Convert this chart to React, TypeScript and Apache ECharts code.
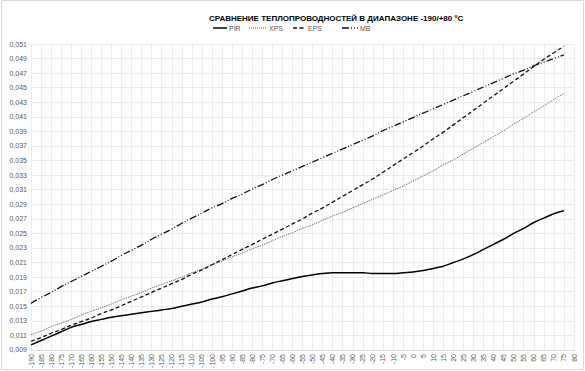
import React, { useEffect, useRef } from "react";
import * as echarts from "echarts";

const categories = [
  "-190","-185","-180","-175","-170","-165","-160","-155","-150","-145",
  "-140","-135","-130","-125","-120","-115","-110","-105","-100","-95",
  "-90","-85","-80","-75","-70","-65","-60","-55","-50","-45",
  "-40","-35","-30","-25","-20","-15","-10","-5","0","5",
  "10","15","20","25","30","35","40","45","50","55",
  "60","65","70","75","80",
];

const pir = [
  0.0097,0.0103,0.0109,0.0115,0.0121,0.0125,0.0129,0.0132,0.0135,0.0137,
  0.0139,0.0141,0.0143,0.0145,0.0147,0.0150,0.0153,0.0156,0.0160,0.0163,
  0.0167,0.0171,0.0175,0.0178,0.0182,0.0185,0.0188,0.0191,0.0193,0.0195,
  0.0196,0.0196,0.0196,0.0196,0.0195,0.0195,0.0195,0.0196,0.0197,0.0199,
  0.0202,0.0205,0.0210,0.0215,0.0221,0.0228,0.0235,0.0242,0.0250,0.0257,
  0.0265,0.0271,0.0277,0.0281,
];

const xps = [
  0.0111,0.0116,0.0122,0.0127,0.0132,0.0138,0.0143,0.0148,0.0153,0.0159,
  0.0164,0.0169,0.0175,0.0180,0.0185,0.0190,0.0196,0.0201,0.0207,0.0212,
  0.0218,0.0223,0.0229,0.0234,0.0240,0.0246,0.0251,0.0257,0.0262,0.0268,
  0.0274,0.0279,0.0285,0.0291,0.0297,0.0303,0.0309,0.0315,0.0322,0.0329,
  0.0336,0.0344,0.0351,0.0359,0.0367,0.0375,0.0383,0.0391,0.0400,0.0408,
  0.0417,0.0425,0.0434,0.0442,
];

const eps = [
  0.0102,0.0107,0.0113,0.0118,0.0124,0.0129,0.0134,0.0140,0.0145,0.0151,
  0.0157,0.0163,0.0169,0.0175,0.0181,0.0187,0.0194,0.0200,0.0207,0.0214,
  0.0221,0.0228,0.0235,0.0242,0.0249,0.0256,0.0263,0.0270,0.0278,0.0285,
  0.0293,0.0301,0.0309,0.0317,0.0325,0.0334,0.0343,0.0352,0.0361,0.0370,
  0.0380,0.0389,0.0399,0.0409,0.0419,0.0429,0.0439,0.0449,0.0459,0.0469,
  0.0479,0.0489,0.0498,0.0507,
];

const mb = [
  0.0154,0.0162,0.0169,0.0177,0.0184,0.0191,0.0198,0.0205,0.0212,0.0220,
  0.0227,0.0234,0.0242,0.0249,0.0256,0.0264,0.0271,0.0278,0.0285,0.0291,
  0.0298,0.0304,0.0311,0.0317,0.0324,0.0330,0.0336,0.0342,0.0348,0.0354,
  0.0360,0.0366,0.0372,0.0378,0.0384,0.0391,0.0397,0.0403,0.0409,0.0415,
  0.0421,0.0427,0.0433,0.0439,0.0445,0.0451,0.0457,0.0463,0.0469,0.0474,
  0.0480,0.0485,0.0490,0.0495,
];

const yTicks = [
  0.009,0.011,0.013,0.015,0.017,0.019,0.021,0.023,0.025,0.027,0.029,
  0.031,0.033,0.035,0.037,0.039,0.041,0.043,0.045,0.047,0.049,0.051,
];

const seriesNames = ["PIR", "XPS", "EPS", "MB"];

const FONT = "Liberation Sans, Arial, sans-serif";

const styles: Record<string, { color: string; width: number; dash: number[] | "solid" }> = {
  PIR: { color: "#000000", width: 1.5, dash: "solid" },
  XPS: { color: "#555555", width: 1, dash: [1, 1] },
  EPS: { color: "#111111", width: 1.3, dash: [4, 2.5] },
  MB: { color: "#111111", width: 1.3, dash: [7, 2, 1, 2, 1, 2] },
};

export default function App() {
  const ref = useRef<HTMLDivElement>(null);
  useEffect(() => {
    if (!ref.current) return;
    const chart = echarts.init(ref.current, null, { renderer: "svg" });
    const fmt = (v: number) => v.toFixed(3).replace(".", ",");
    const dataByName: Record<string, number[]> = { PIR: pir, XPS: xps, EPS: eps, MB: mb };

    // legend drawn with graphic elements so the line dash patterns show
    const legendX = [213, 249, 293, 342];
    const legendLen = [14, 18, 13, 16];
    const legendGraphics: any[] = [];
    seriesNames.forEach((n, i) => {
      const s = styles[n];
      legendGraphics.push({
        type: "line",
        shape: { x1: legendX[i], y1: 28, x2: legendX[i] + legendLen[i], y2: 28 },
        style: {
          stroke: s.color,
          lineWidth: s.width,
          lineDash: s.dash === "solid" ? null : s.dash,
        },
        silent: true,
      });
      legendGraphics.push({
        type: "text",
        x: legendX[i] + legendLen[i] + 2,
        y: 28,
        style: {
          text: n,
          fontFamily: FONT,
          fontSize: 7,
          fill: "#595959",
          verticalAlign: "middle",
          align: "left",
        },
        silent: true,
      });
    });

    chart.setOption({
      animation: false,
      backgroundColor: "#ffffff",
      title: {
        text: "СРАВНЕНИЕ ТЕПЛОПРОВОДНОСТЕЙ В ДИАПАЗОНЕ -190/+80 ºС",
        left: 204,
        top: 9,
        textStyle: {
          fontFamily: FONT,
          fontSize: 8,
          fontWeight: "bold",
          color: "#000000",
        },
      },
      graphic: [
        {
          type: "rect",
          shape: { x: 1.5, y: 0.5, width: 582, height: 369 },
          style: { fill: "none", stroke: "#d9d9d9", lineWidth: 1 },
          silent: true,
        },
        ...legendGraphics,
      ],
      grid: { left: 31, right: 11, top: 44, bottom: 20, containLabel: false },
      xAxis: {
        type: "category",
        data: categories,
        boundaryGap: false,
        axisLine: { show: true, lineStyle: { color: "#d9d9d9" } },
        axisTick: { show: false },
        splitLine: { show: true, interval: 0, lineStyle: { color: "#ececec", width: 1 } },
        axisLabel: {
          interval: 0,
          rotate: 90,
          fontFamily: FONT,
          fontSize: 7,
          color: "#595959",
          margin: 4,
        },
      },
      yAxis: {
        type: "value",
        min: 0.009,
        max: 0.051,
        axisLine: { show: false },
        axisTick: { show: false, customValues: yTicks },
        splitLine: { show: true, lineStyle: { color: "#ececec", width: 1 } },
        axisLabel: {
          customValues: yTicks,
          formatter: (v: number) => fmt(v),
          fontFamily: FONT,
          fontSize: 7,
          color: "#595959",
          margin: 4,
        },
      },
      series: seriesNames.map((n) => ({
        name: n,
        type: "line",
        data: dataByName[n],
        smooth: true,
        symbol: "none",
        lineStyle: { color: styles[n].color, width: styles[n].width, type: styles[n].dash },
        itemStyle: { color: styles[n].color },
      })),
    });
    return () => chart.dispose();
  }, []);
  return (
    <div
      ref={ref}
      style={{ position: "fixed", left: 0, top: 0, width: 585, height: 371 }}
    />
  );
}
